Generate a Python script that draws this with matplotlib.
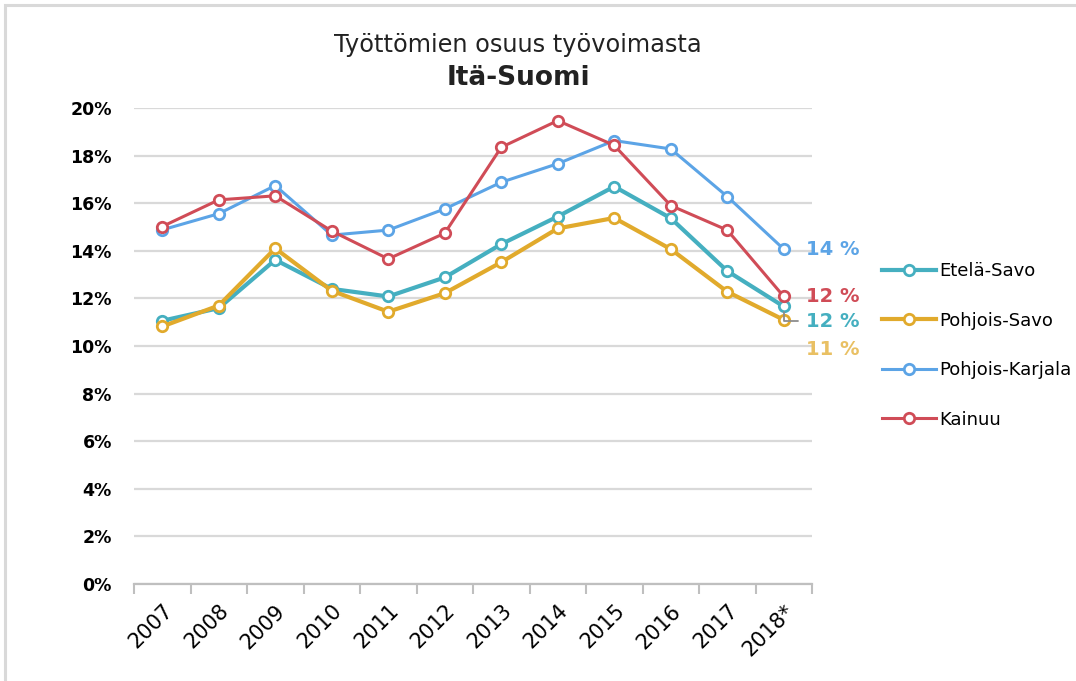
import matplotlib
matplotlib.use("Agg")
import matplotlib.pyplot as plt
from matplotlib.patches import Rectangle
from matplotlib.ticker import FixedLocator, FuncFormatter

plt.rcParams['font.family'] = ['DejaVu Sans']

# Unemployment rate (%) by region, Eastern Finland
years = ["2007", "2008", "2009", "2010", "2011", "2012", "2013", "2014",
         "2015", "2016", "2017", "2018*"]
etela_savo = [11.06, 11.59, 13.62, 12.40, 12.08, 12.88, 14.28, 15.44,
              16.70, 15.37, 13.15, 11.66]
pohjois_savo = [10.82, 11.70, 14.10, 12.32, 11.44, 12.22, 13.52, 14.94,
                15.38, 14.07, 12.28, 11.10]
pohjois_karjala = [14.88, 15.56, 16.74, 14.66, 14.87, 15.76, 16.88, 17.66,
                   18.63, 18.28, 16.28, 14.07]
kainuu = [15.02, 16.14, 16.31, 14.83, 13.66, 14.74, 18.35, 19.47,
          18.43, 15.90, 14.87, 12.08]

series_names = ["Etelä-Savo", "Pohjois-Savo", "Pohjois-Karjala", "Kainuu"]
series_vals = [etela_savo, pohjois_savo, pohjois_karjala, kainuu]
colors = ["#45AFC0", "#E1AA2C", "#5CA4E6", "#D04C57"]
label_colors = ["#45AFC0", "#E9C063", "#5CA4E6", "#D04C57"]
widths = [3.0, 3.0, 2.2, 2.2]
zorders = [4, 5, 3, 6]
# vertical pixel shift for the end-of-line value labels
label_shift = [-15, -30, 0, 0]

W, H = 1076, 681
fig = plt.figure(figsize=(W / 100, H / 100), dpi=100)
fig.patch.set_facecolor("white")

# thin frame around the chart area
fig.patches.append(Rectangle((5 / W, -0.1), 1.2, (H - 5) / H + 0.1,
                             transform=fig.transFigure, fill=False,
                             edgecolor="#D9D9D9", linewidth=2.2))

ax = fig.add_axes([134 / W, (H - 584) / H, (812 - 134) / W, (584 - 108) / H])
x = list(range(len(years)))

lines = []
for name, vals, c, lw, z in zip(series_names, series_vals, colors, widths, zorders):
    ln, = ax.plot(x, vals, color=c, lw=lw, marker="o", ms=7.5, mfc="white",
                  mec=c, mew=2.0, label=name, zorder=z, clip_on=False)
    lines.append(ln)

# value labels at the last point
for vals, c, dy, z in zip(series_vals, label_colors, label_shift, zorders):
    ax.annotate(f"{round(vals[-1])} %", xy=(x[-1], vals[-1]),
                xytext=(22, dy), textcoords="offset pixels",
                ha="left", va="center", fontsize=14, fontweight="bold",
                color=c, annotation_clip=False, zorder=z)

# leader line for the shifted Etelä-Savo label
ax.annotate("", xy=(x[-1], etela_savo[-1]), xytext=(14, -15),
            textcoords="offset pixels",
            arrowprops=dict(arrowstyle="-", color="#8C8C8C", lw=1.3,
                            connectionstyle="angle,angleA=0,angleB=90,rad=0",
                            shrinkA=0, shrinkB=4),
            annotation_clip=False, zorder=7)

ax.set_xlim(-0.5, len(years) - 0.5)
ax.set_ylim(0, 20)
ax.yaxis.set_major_locator(FixedLocator(range(0, 21, 2)))
ax.yaxis.set_major_formatter(FuncFormatter(lambda v, p: f"{int(v)}%"))
ax.grid(axis="y", color="#D9D9D9", lw=1.6, zorder=0)
ax.set_axisbelow(True)

ax.set_xticks(x)
ax.set_xticklabels(years, rotation=45, ha="right", rotation_mode="anchor")
ax.set_xticks([i - 0.5 for i in range(len(years) + 1)], minor=True)
ax.tick_params(axis="x", which="major", length=0, pad=12, labelsize=15)
ax.tick_params(axis="x", which="minor", length=7, width=1.5, color="#BFBFBF")
ax.tick_params(axis="y", length=0, pad=16, labelsize=12.5)
for lab in ax.get_yticklabels():
    lab.set_fontweight("bold")

for side in ("left", "right", "top"):
    ax.spines[side].set_visible(False)
ax.spines["bottom"].set_color("#BFBFBF")
ax.spines["bottom"].set_linewidth(1.6)
ax.spines["bottom"].set_zorder(1)

fig.text(518 / W, 1 - 45 / H, "Työttömien osuus työvoimasta",
         ha="center", va="center", fontsize=17.3, color="#222222")
fig.text(518 / W, 1 - 78 / H, "Itä-Suomi", ha="center", va="center",
         fontsize=19, fontweight="bold", color="#222222")

leg = fig.legend(handles=lines, loc="upper left",
                 bbox_to_anchor=(882 / W, 1 - 262 / H), frameon=False,
                 fontsize=13, handlelength=3.0, handletextpad=0.15,
                 labelspacing=1.75, borderaxespad=0, borderpad=0)

fig.savefig("out.png", dpi=100, facecolor="white")
